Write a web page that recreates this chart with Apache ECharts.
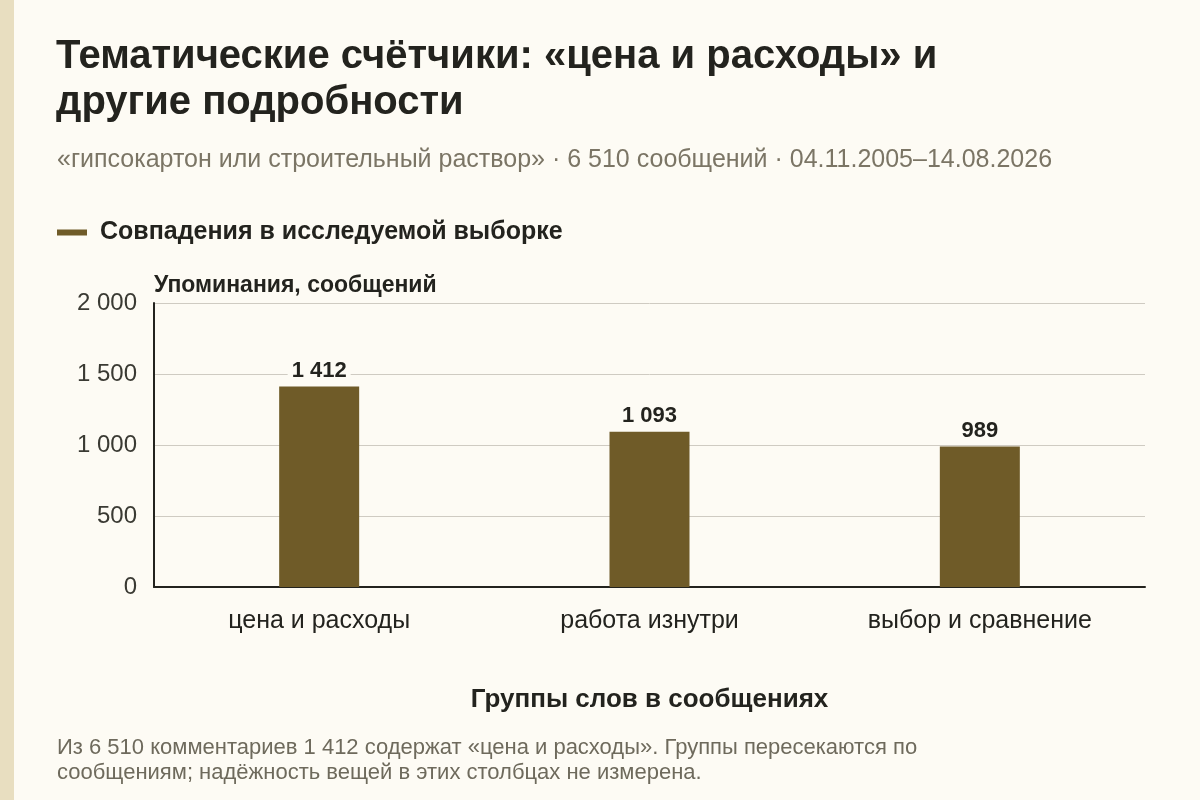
<!DOCTYPE html>
<html>
<head>
<meta charset="utf-8">
<script src="https://cdn.jsdelivr.net/npm/echarts@6/dist/echarts.min.js"></script>
<style>
  html, body { margin: 0; padding: 0; background: #fdfbf4; }
  #chart { width: 1200px; height: 800px; }
</style>
</head>
<body>
<div id="chart"></div>
<script>
var categories = ['цена и расходы', 'работа изнутри', 'выбор и сравнение'];
var matches = [1412, 1093, 989];
var seriesName = 'Совпадения в исследуемой выборке';

function fmt(v) {
  return String(v).replace(/\B(?=(\d{3})+(?!\d))/g, ' ');
}

var chartDom = document.getElementById('chart');
var myChart = echarts.init(chartDom);
var font = '"Liberation Sans", Arial, sans-serif';
var option;

option = {
  backgroundColor: '#fdfbf4',
  textStyle: { fontFamily: font },
  title: [
    {
      text: 'Тематические счётчики: «цена и расходы» и\nдругие подробности',
      left: 51,
      top: 29,
      textStyle: { fontSize: 40, fontWeight: 'bold', color: '#23231e', lineHeight: 46, fontFamily: font }
    },
    {
      text: '«гипсокартон или строительный раствор» · 6 510 сообщений · 04.11.2005–14.08.2026',
      left: 52,
      top: 143,
      textStyle: { fontSize: 25, fontWeight: 'normal', color: '#7b7565', fontFamily: font }
    },
    {
      text: 'Из 6 510 комментариев 1 412 содержат «цена и расходы». Группы пересекаются по\nсообщениям; надёжность вещей в этих столбцах не измерена.',
      left: 52,
      top: 730,
      textStyle: { fontSize: 22, fontWeight: 'normal', color: '#6e6a5c', lineHeight: 25, fontFamily: font }
    }
  ],
  graphic: [
    { type: 'rect', left: 0, top: 0, shape: { width: 14, height: 800 }, style: { fill: '#e8dec0' } }
  ],
  legend: {
    data: [seriesName],
    left: 52,
    top: 215,
    itemWidth: 30,
    itemHeight: 6,
    icon: 'rect',
    textStyle: { fontSize: 25, fontWeight: 'bold', color: '#23231e', fontFamily: font, padding: [0, 0, 0, 8] }
  },
  grid: {
    left: 154,
    right: 55,
    top: 303,
    bottom: 213
  },
  xAxis: {
    type: 'category',
    data: categories,
    name: 'Группы слов в сообщениях',
    nameLocation: 'middle',
    nameGap: 100,
    nameTextStyle: { fontSize: 26, fontWeight: 'bold', color: '#23231e' },
    axisLine: { lineStyle: { color: '#23231e', width: 2 } },
    axisTick: { alignWithLabel: true, length: 6, lineStyle: { color: '#23231e', width: 1.5 } },
    axisLabel: { fontSize: 25, color: '#23231e', margin: 22 }
  },
  yAxis: {
    type: 'value',
    min: 0,
    max: 2000,
    interval: 500,
    name: 'Упоминания, сообщений',
    nameLocation: 'end',
    nameGap: 6,
    nameTextStyle: { fontSize: 23, fontWeight: 'bold', color: '#23231e', align: 'left', verticalAlign: 'bottom' },
    axisLine: { show: true, lineStyle: { color: '#23231e', width: 2 } },
    axisTick: { show: false },
    axisLabel: { fontSize: 24, color: '#3a3a33', margin: 17, formatter: function (v) { return fmt(v); } },
    splitLine: { lineStyle: { color: '#cfcbc2', width: 1 } }
  },
  series: [
    {
      name: seriesName,
      type: 'bar',
      data: matches,
      barWidth: 80,
      itemStyle: { color: '#6f5b28' },
      label: {
        show: true,
        position: 'top',
        distance: 4,
        fontSize: 22,
        fontWeight: 'bold',
        color: '#23231e',
        backgroundColor: '#fdfbf4',
        padding: [1, 4],
        formatter: function (p) { return fmt(p.value); }
      }
    }
  ]
};

option && myChart.setOption(option);
</script>
</body>
</html>
